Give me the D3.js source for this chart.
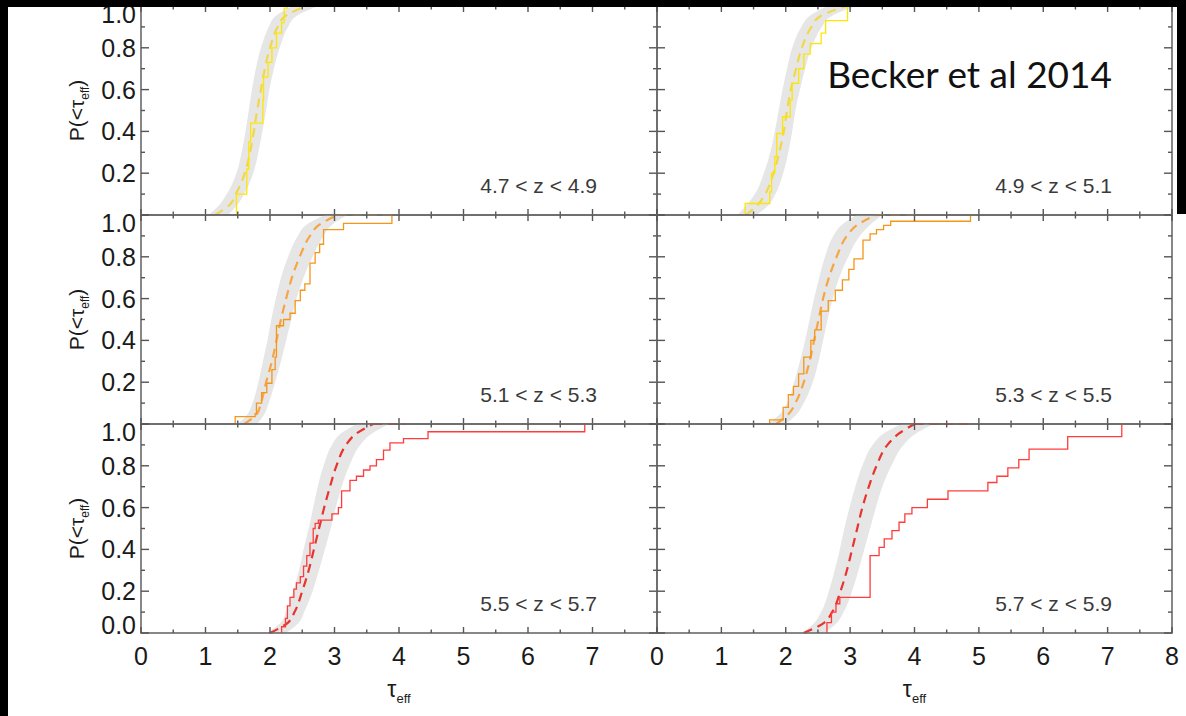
<!DOCTYPE html>
<html><head><meta charset="utf-8">
<script src="https://cdn.jsdelivr.net/npm/d3@7"></script>
<style>body{margin:0;background:#fff}svg{display:block}</style>
</head><body>
<svg id="c" width="1186" height="716"></svg>
<script>
// ---------- data ----------
const zBins = ["4.7 < z < 4.9","4.9 < z < 5.1","5.1 < z < 5.3","5.3 < z < 5.5","5.5 < z < 5.7","5.7 < z < 5.9"];
const xTickLabelsLeft  = ["0","1","2","3","4","5","6","7"];
const xTickLabelsRight = ["0","1","2","3","4","5","6","7","8"];
const yTickLabelsUpper = ["0.2","0.4","0.6","0.8","1.0"];
const yTickLabelsLower = ["0.0","0.2","0.4","0.6","0.8","1.0"];
const title = "Becker et al 2014";

// cumulative probability levels used for model band and median curve
const levels = [0, 0.05, 0.1, 0.2, 0.3, 0.4, 0.5, 0.6, 0.7, 0.8, 0.9, 0.95, 1.0];

// panel 1 (4.7<z<4.9)
const p1Lo  = [1.05,1.22,1.33,1.48,1.56,1.62,1.67,1.72,1.78,1.86,1.98,2.08,2.35];
const p1Hi  = [1.35,1.50,1.60,1.74,1.82,1.88,1.94,1.99,2.06,2.15,2.28,2.40,2.75];
const p1Med = [1.15,1.38,1.47,1.61,1.69,1.75,1.80,1.86,1.92,2.00,2.12,2.23,2.55];
const p1Tail = 2.95;
const p1Step = [[1.48,0.10],[1.64,0.22],[1.67,0.35],[1.70,0.44],[1.89,0.55],[1.90,0.66],[1.97,0.73],[2.03,0.80],[2.10,0.87],[2.18,0.92],[2.22,0.99],[2.27,1.0]];
// panel 2 (4.9<z<5.1)
const p2Lo  = [1.25,1.40,1.52,1.66,1.76,1.83,1.89,1.95,2.02,2.10,2.24,2.36,2.65];
const p2Hi  = [1.55,1.74,1.84,1.96,2.04,2.10,2.15,2.22,2.30,2.40,2.56,2.70,3.10];
const p2Med = [1.38,1.57,1.68,1.81,1.90,1.97,2.02,2.08,2.16,2.25,2.40,2.53,2.95];
const p2Tail = 3.40;
const p2Step = [[1.37,0.055],[1.75,0.11],[1.78,0.20],[1.83,0.28],[1.86,0.39],[1.95,0.47],[2.07,0.55],[2.10,0.63],[2.20,0.70],[2.28,0.77],[2.38,0.82],[2.55,0.87],[2.62,0.93],[2.96,1.0]];
// panel 3 (5.1<z<5.3)
const p3Lo  = [1.50,1.66,1.73,1.82,1.89,1.96,2.02,2.09,2.17,2.28,2.43,2.55,2.85];
const p3Hi  = [1.80,1.92,1.98,2.08,2.17,2.25,2.33,2.41,2.52,2.66,2.83,2.95,3.20];
const p3Med = [1.60,1.80,1.86,1.94,2.03,2.10,2.17,2.25,2.34,2.46,2.62,2.75,3.05];
const p3Tail = 3.96;
const p3Step = [[1.46,0.035],[1.77,0.05],[1.79,0.10],[1.87,0.15],[1.95,0.195],[2.03,0.26],[2.08,0.32],[2.10,0.47],[2.21,0.50],[2.31,0.53],[2.39,0.59],[2.47,0.64],[2.54,0.67],[2.62,0.77],[2.70,0.82],[2.77,0.86],[2.83,0.93],[3.14,0.96],[3.89,1.0]];
// panel 4 (5.3<z<5.5)
const p4Lo  = [1.72,1.92,2.02,2.13,2.22,2.30,2.37,2.44,2.52,2.61,2.74,2.86,3.10];
const p4Hi  = [2.00,2.18,2.28,2.42,2.51,2.58,2.65,2.73,2.83,2.97,3.15,3.30,3.50];
const p4Med = [1.85,2.05,2.15,2.28,2.37,2.44,2.51,2.58,2.67,2.79,2.95,3.10,3.40];
const p4Tail = 4.06;
const p4Step = [[1.75,0.02],[1.96,0.08],[2.04,0.14],[2.12,0.18],[2.20,0.24],[2.28,0.32],[2.39,0.40],[2.45,0.45],[2.55,0.54],[2.66,0.59],[2.77,0.64],[2.88,0.69],[2.98,0.74],[3.06,0.79],[3.20,0.88],[3.31,0.91],[3.41,0.93],[3.52,0.95],[3.63,0.97],[4.87,1.0]];
// panel 5 (5.5<z<5.7)
const p5Lo  = [1.95,2.17,2.25,2.36,2.45,2.52,2.60,2.67,2.74,2.83,2.96,3.08,3.35];
const p5Hi  = [2.25,2.45,2.53,2.66,2.76,2.85,2.94,3.02,3.11,3.23,3.40,3.56,3.85];
const p5Med = [2.00,2.28,2.38,2.50,2.60,2.68,2.76,2.84,2.93,3.03,3.18,3.32,3.60];
const p5Tail = 4.10;
const p5Step = [[2.18,0.03],[2.24,0.07],[2.27,0.13],[2.31,0.17],[2.37,0.21],[2.41,0.24],[2.47,0.27],[2.52,0.32],[2.57,0.37],[2.62,0.43],[2.67,0.50],[2.70,0.525],[2.75,0.54],[2.96,0.57],[3.06,0.60],[3.11,0.68],[3.24,0.73],[3.34,0.75],[3.45,0.78],[3.55,0.80],[3.65,0.83],[3.76,0.875],[3.86,0.91],[4.07,0.93],[4.45,0.963],[6.88,1.0]];
// panel 6 (5.7<z<5.9)
const p6Lo  = [2.25,2.45,2.55,2.67,2.76,2.84,2.91,2.99,3.08,3.19,3.35,3.50,3.80];
const p6Hi  = [2.60,2.80,2.90,3.03,3.13,3.22,3.31,3.40,3.50,3.64,3.83,4.00,4.30];
const p6Med = [2.28,2.60,2.72,2.85,2.95,3.03,3.11,3.19,3.29,3.41,3.58,3.74,4.00];
const p6Tail = 4.92;
const p6Step = [[2.64,0.05],[2.71,0.10],[2.78,0.14],[2.84,0.17],[3.31,0.37],[3.45,0.41],[3.53,0.45],[3.65,0.49],[3.76,0.53],[3.85,0.57],[3.96,0.60],[4.20,0.64],[4.52,0.68],[5.14,0.72],[5.28,0.75],[5.45,0.79],[5.62,0.83],[5.78,0.88],[6.38,0.94],[7.22,1.0]];

// ---------- layout ----------
const W = 1186, H = 716;
const colRange = [[141, 657], [657, 1172]];
const rowRange = [[215, 6], [424, 215], [633, 424]];
const AX = "#6a6a6a";
const FONT = "'Liberation Sans', Arial, Helvetica, sans-serif";

const colors = {
  yellow: {step: "#ffe600", dash: "#efd84a"},
  orange: {step: "#f5961a", dash: "#f6a544"},
  red:    {step: "#ff3c3c", dash: "#e8332e"}
};

const panels = [
  {row:0,col:0,label:zBins[0],lo:p1Lo,hi:p1Hi,med:p1Med,tail:p1Tail,step:p1Step,c:colors.yellow},
  {row:0,col:1,label:zBins[1],lo:p2Lo,hi:p2Hi,med:p2Med,tail:p2Tail,step:p2Step,c:colors.yellow},
  {row:1,col:0,label:zBins[2],lo:p3Lo,hi:p3Hi,med:p3Med,tail:p3Tail,step:p3Step,c:colors.orange},
  {row:1,col:1,label:zBins[3],lo:p4Lo,hi:p4Hi,med:p4Med,tail:p4Tail,step:p4Step,c:colors.orange},
  {row:2,col:0,label:zBins[4],lo:p5Lo,hi:p5Hi,med:p5Med,tail:p5Tail,step:p5Step,c:colors.red},
  {row:2,col:1,label:zBins[5],lo:p6Lo,hi:p6Hi,med:p6Med,tail:p6Tail,step:p6Step,c:colors.red}
];

const svg = d3.select("#c");
svg.append("rect").attr("width", W).attr("height", H).attr("fill", "#fff");
const defs = svg.append("defs");

const xMajor = d3.range(0, 9, 1);
const xMinor = d3.range(0.5, 8, 1);
const yMajor = d3.range(0, 1.01, 0.2);
const yMinor = d3.range(0.1, 1, 0.2);

panels.forEach((p, i) => {
  const x = d3.scaleLinear().domain([0, 8]).range(colRange[p.col]);
  const y = d3.scaleLinear().domain([0, 1]).range(rowRange[p.row]);
  const [x0, x1] = x.range();
  const [yb, yt] = y.range();
  const g = svg.append("g");

  defs.append("clipPath").attr("id", "clip" + i)
    .append("rect").attr("x", x0).attr("y", yt - 2).attr("width", x1 - x0).attr("height", yb - yt + 3);
  const plot = g.append("g").attr("clip-path", `url(#clip${i})`);

  // model band
  const band = d3.area().curve(d3.curveMonotoneY)
    .y(d => y(d.p)).x0(d => x(d.lo)).x1(d => x(d.hi));
  plot.append("path")
    .datum(levels.map((lv, k) => ({p: lv, lo: p.lo[k], hi: p.hi[k]})))
    .attr("d", band).attr("fill", "#e6e6e6").attr("stroke", "none");

  // axes frame
  g.append("rect").attr("x", x0).attr("y", yt).attr("width", x1 - x0).attr("height", yb - yt)
    .attr("fill", "none").attr("stroke", AX).attr("stroke-width", 1.6);

  const ticks = g.append("g").attr("stroke", "#555").attr("stroke-width", 1.4);
  xMajor.forEach(v => {
    ticks.append("line").attr("x1", x(v)).attr("x2", x(v)).attr("y1", yb).attr("y2", yb - 6);
    ticks.append("line").attr("x1", x(v)).attr("x2", x(v)).attr("y1", yt).attr("y2", yt + 6);
  });
  xMinor.forEach(v => {
    ticks.append("line").attr("x1", x(v)).attr("x2", x(v)).attr("y1", yb).attr("y2", yb - 3.5);
    ticks.append("line").attr("x1", x(v)).attr("x2", x(v)).attr("y1", yt).attr("y2", yt + 3.5);
  });
  yMajor.forEach(v => {
    ticks.append("line").attr("y1", y(v)).attr("y2", y(v)).attr("x1", x0).attr("x2", x0 + 8);
    ticks.append("line").attr("y1", y(v)).attr("y2", y(v)).attr("x1", x1).attr("x2", x1 - 8);
  });
  yMinor.forEach(v => {
    ticks.append("line").attr("y1", y(v)).attr("y2", y(v)).attr("x1", x0).attr("x2", x0 + 4);
    ticks.append("line").attr("y1", y(v)).attr("y2", y(v)).attr("x1", x1).attr("x2", x1 - 4);
  });

  // model median (dashed)
  const medLine = d3.line().curve(d3.curveMonotoneY).x(d => x(d[0])).y(d => y(d[1]));
  const medPts = levels.map((lv, k) => [p.med[k], lv]);
  plot.append("path").datum(medPts).attr("d", medLine)
    .attr("fill", "none").attr("stroke", p.c.dash).attr("stroke-width", 2.2)
    .attr("stroke-dasharray", "9,6");
  plot.append("path").datum([[p.med[p.med.length - 1], 1], [p.tail, 1]])
    .attr("d", d3.line().x(d => x(d[0])).y(d => y(d[1])))
    .attr("fill", "none").attr("stroke", p.c.dash).attr("stroke-width", 2.2)
    .attr("stroke-dasharray", "9,6");

  // observed CDF (steps)
  const stepPts = [[p.step[0][0], 0]].concat(p.step);
  plot.append("path").datum(stepPts)
    .attr("d", d3.line().curve(d3.curveStepAfter).x(d => x(d[0])).y(d => y(d[1])))
    .attr("fill", "none").attr("stroke", p.c.step).attr("stroke-width", 1.3);

  // redshift bin label
  g.append("text").attr("x", x1 - 60).attr("y", yb - 30)
    .attr("text-anchor", "end").attr("dominant-baseline", "central")
    .attr("font-family", FONT).attr("font-size", 21).attr("fill", "#3a3a3a")
    .text(p.label);

  // y tick labels for left column
  if (p.col === 0) {
    const labs = p.row === 2 ? yTickLabelsLower : yTickLabelsUpper;
    labs.forEach(t => {
      const v = +t;
      let yy = y(v);
      if (v === 1) yy += 8;
      if (v === 0) yy -= 8;
      g.append("text").attr("x", x0 - 5).attr("y", yy)
        .attr("text-anchor", "end").attr("dominant-baseline", "central")
        .attr("font-family", FONT).attr("font-size", 25).attr("fill", "#1a1a1a").text(t);
    });
    const yl = g.append("text")
      .attr("transform", `translate(84,${(yb + yt) / 2}) rotate(-90)`)
      .attr("text-anchor", "middle").attr("font-family", FONT).attr("font-size", 21).attr("fill", "#1a1a1a");
    yl.append("tspan").text("P(<τ");
    yl.append("tspan").attr("font-size", 12).attr("dy", 5).text("eff");
    yl.append("tspan").attr("dy", -5).text(")");
  }

  // x tick labels + title for bottom row
  if (p.row === 2) {
    const labs = p.col === 0 ? xTickLabelsLeft : xTickLabelsRight;
    labs.forEach(t => {
      g.append("text").attr("x", x(+t)).attr("y", 656)
        .attr("text-anchor", "middle").attr("dominant-baseline", "central")
        .attr("font-family", FONT).attr("font-size", 25).attr("fill", "#1a1a1a").text(t);
    });
    const xt = g.append("text").attr("x", (x0 + x1) / 2).attr("y", 697)
      .attr("text-anchor", "middle").attr("font-family", FONT).attr("font-size", 23).attr("fill", "#1a1a1a");
    xt.append("tspan").text("τ");
    xt.append("tspan").attr("font-size", 13).attr("dy", 6).text("eff");
  }
});

// title annotation
svg.append("text").attr("x", 1112).attr("y", 88).attr("text-anchor", "end")
  .attr("font-family", "Lato, 'Open Sans', sans-serif").attr("font-size", 37).attr("fill", "#111")
  .text(title);

// slide frame (black borders)
svg.append("rect").attr("x", 0).attr("y", 0).attr("width", W).attr("height", 7).attr("fill", "#000");
svg.append("rect").attr("x", 0).attr("y", 0).attr("width", 8).attr("height", H).attr("fill", "#000");
svg.append("rect").attr("x", 1177).attr("y", 0).attr("width", 9).attr("height", 214).attr("fill", "#000");
</script>
</body></html>
